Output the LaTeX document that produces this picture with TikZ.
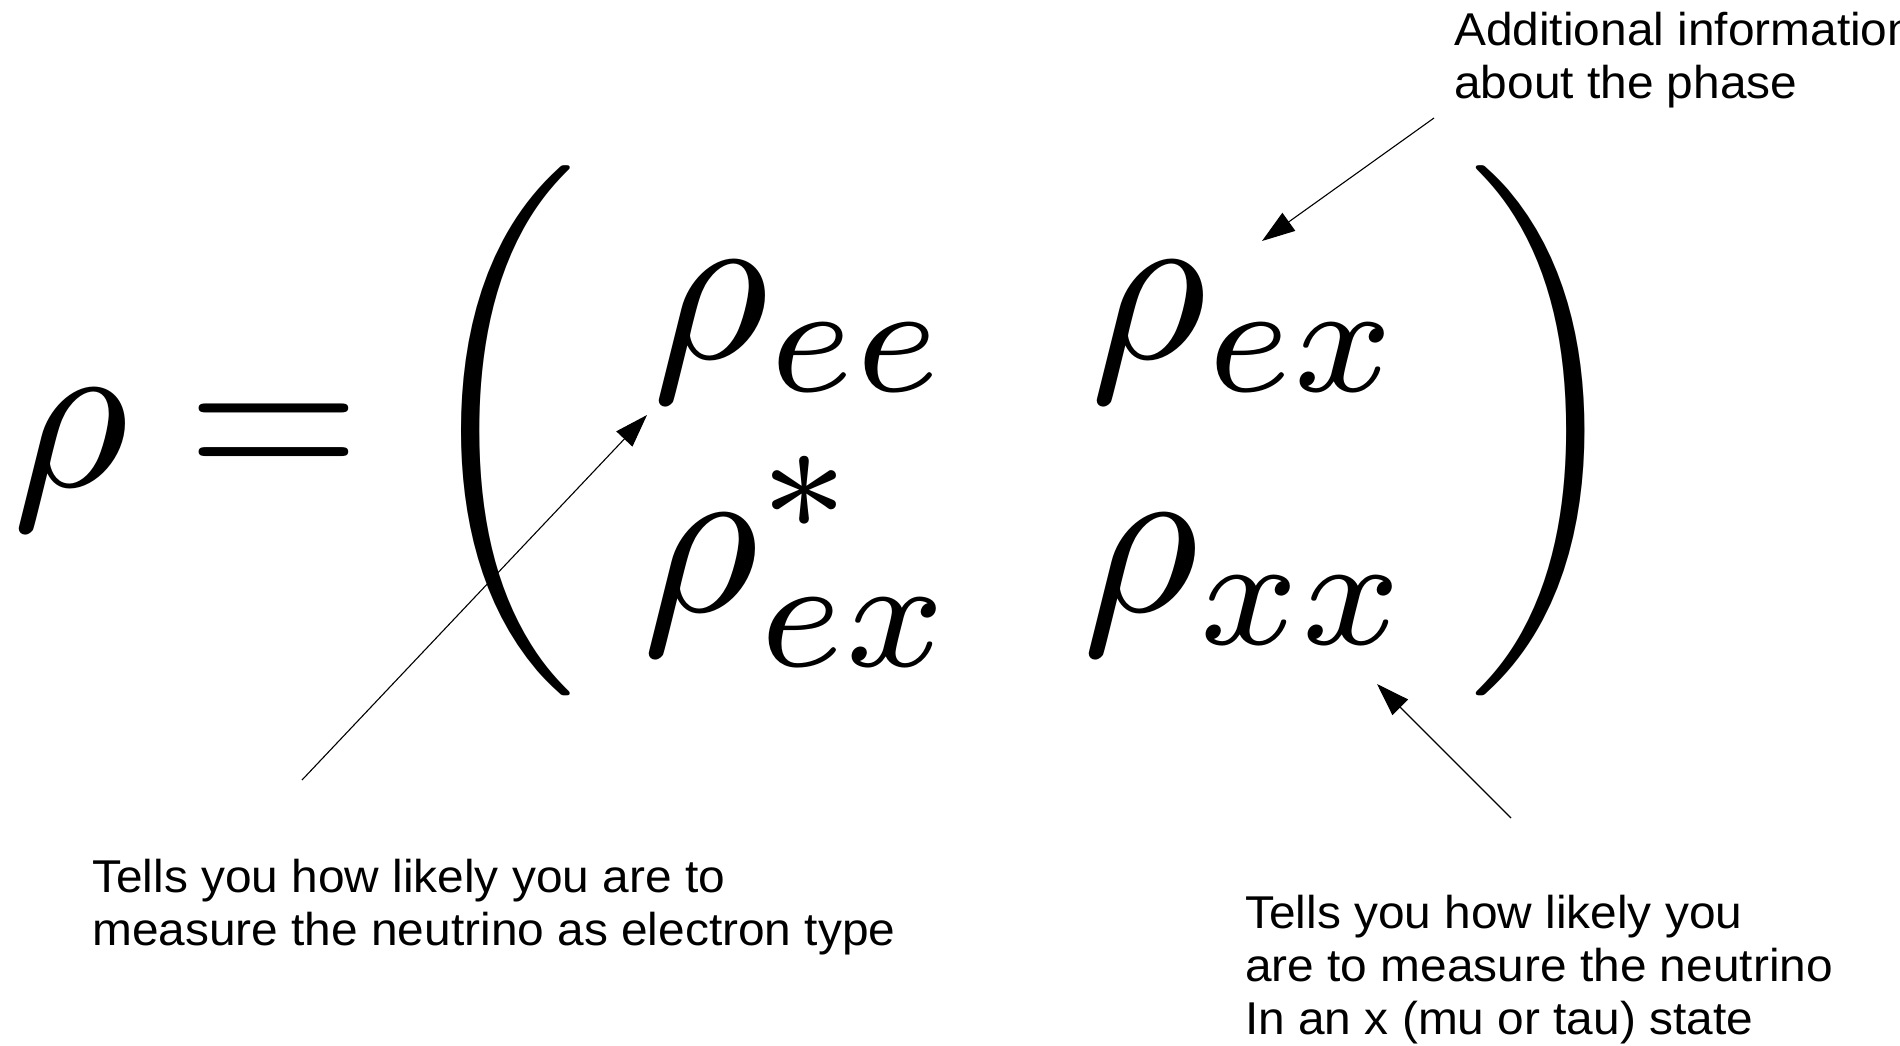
\documentclass[tikz,border=0pt]{standalone}
\usepackage{amsmath}
\usepackage{fontspec}
\newfontfamily\labfont{Liberation Sans}
\usetikzlibrary{arrows.meta}
\begin{document}
\begin{tikzpicture}[x=1pt,y=-1pt,
  mathbig/.style={inner sep=0pt, scale=22.5, transform shape, anchor=base west},
  parenbig/.style={inner sep=0pt, scale=22.1, transform shape},
  note/.style={inner sep=0pt, anchor=north west, align=left, xscale=1.04, transform shape, font=\labfont\fontsize{46}{53}\selectfont},
  pointer/.style={line width=1.1pt, -{Triangle[length=33pt,width=22pt]}}]
\path[use as bounding box, clip] (0,0) rectangle (1900,1045);
\fill[white] (0,0) rectangle (1900,1045);
% left-hand side
\node[mathbig] (rho) at (8,486) {$\rho$};
\node[mathbig] (eq) at (182,486) {$=$};
% parentheses
\node[parenbig, anchor=west] (lp) at (411,431) {$\biggl($};
\node[parenbig, anchor=east] (rp) at (1636,431) {$\biggr)$};
% matrix entries
\node[mathbig] (ee) at (648,358) {$\rho_{ee}$};
\node[mathbig] (ex) at (1086,358) {$\rho_{ex}$};
\node[mathbig] (exs) at (638,611) {$\rho^{*}_{ex}$};
\node[mathbig] (xx) at (1078,611) {$\rho_{xx}$};
% notes
\node[note] (n1) at (1454,12) {Additional information\\about the phase};
\node[note] (n2) at (92,859) {Tells you how likely you are to\\measure the neutrino as electron type};
\node[note] (n3) at (1245,895) {Tells you how likely you\\are to measure the neutrino\\In an x (mu or tau) state};
% pointers
\coordinate (a1s) at (1434,118);
\coordinate (a1e) at (1262,241);
\coordinate (a2s) at (302,780);
\coordinate (a2e) at (647,415);
\coordinate (a3s) at (1511,818);
\coordinate (a3e) at (1377,684);
\draw[pointer] (a1s) -- (a1e);
\draw[pointer] (a2s) -- (a2e);
\draw[pointer] (a3s) -- (a3e);
\end{tikzpicture}
\end{document}
